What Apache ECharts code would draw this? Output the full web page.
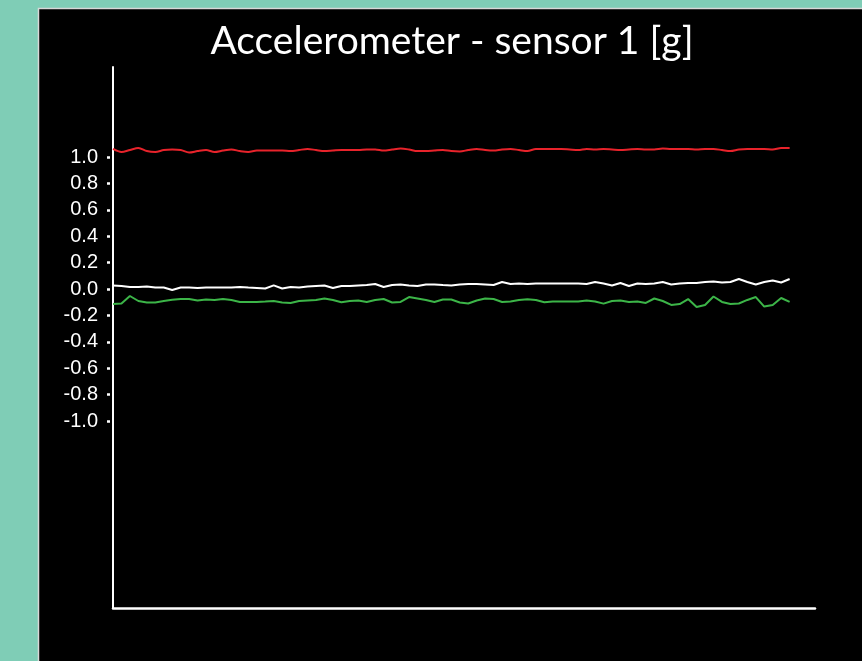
<!DOCTYPE html>
<html>
<head>
<meta charset="utf-8">
<script src="https://cdn.jsdelivr.net/npm/echarts@6/dist/echarts.min.js"></script>
<style>
html, body { margin: 0; padding: 0; background: #7fcdb6; }
#chart { width: 862px; height: 661px; }
</style>
</head>
<body>
<div id="chart"></div>
<script>
// samples (x axis has a few empty slots after the data, as in the picture)
var sampleCount = 84;
var yTickLabels = ['-1.0','-0.8','-0.6','-0.4','-0.2','0.0','0.2','0.4','0.6','0.8','1.0'];

// red trace
var seriesX = [1.061,1.038,1.053,1.068,1.045,1.038,1.053,1.057,1.053,1.034,1.045,1.053,1.038,1.049,1.057,1.045,1.038,1.049,1.049,1.049,
	1.049,1.045,1.053,1.061,1.053,1.045,1.049,1.053,1.053,1.053,1.057,1.057,1.049,1.057,1.064,1.057,1.045,1.045,1.049,1.053,
	1.045,1.042,1.053,1.061,1.053,1.049,1.057,1.061,1.053,1.045,1.061,1.061,1.061,1.061,1.057,1.053,1.061,1.057,1.061,1.057,
	1.053,1.057,1.061,1.057,1.057,1.064,1.061,1.061,1.061,1.057,1.061,1.061,1.053,1.045,1.057,1.061,1.061,1.061,1.057,1.068,1.068];
// white trace
var seriesY = [0.027,0.023,0.015,0.015,0.019,0.011,0.011,-0.008,0.011,0.011,0.008,0.011,0.011,0.011,0.011,0.015,0.011,0.008,0.004,0.027,
	0.004,0.015,0.011,0.019,0.023,0.027,0.008,0.023,0.023,0.027,0.030,0.038,0.015,0.030,0.034,0.027,0.023,0.034,0.034,0.030,
	0.027,0.034,0.038,0.038,0.034,0.030,0.053,0.038,0.042,0.038,0.042,0.042,0.042,0.042,0.042,0.042,0.038,0.053,0.042,0.027,
	0.045,0.023,0.042,0.038,0.042,0.053,0.034,0.042,0.045,0.045,0.053,0.057,0.049,0.053,0.076,0.053,0.034,0.053,0.064,0.049,0.076];
// green trace
var seriesZ = [-0.114,-0.110,-0.053,-0.091,-0.102,-0.102,-0.091,-0.081,-0.076,-0.076,-0.087,-0.080,-0.083,-0.076,-0.083,-0.098,-0.098,-0.098,-0.095,-0.091,
	-0.102,-0.106,-0.091,-0.087,-0.083,-0.072,-0.083,-0.101,-0.091,-0.087,-0.098,-0.083,-0.076,-0.102,-0.098,-0.061,-0.072,-0.083,-0.098,-0.080,
	-0.080,-0.102,-0.110,-0.087,-0.072,-0.076,-0.098,-0.095,-0.083,-0.078,-0.083,-0.101,-0.095,-0.095,-0.095,-0.095,-0.087,-0.095,-0.111,-0.091,
	-0.087,-0.098,-0.095,-0.106,-0.072,-0.091,-0.121,-0.114,-0.076,-0.136,-0.121,-0.057,-0.098,-0.114,-0.110,-0.083,-0.061,-0.133,-0.121,-0.068,-0.098];

var categories = [];
for (var i = 0; i < sampleCount; i++) categories.push(i);

var myChart = echarts.init(document.getElementById('chart'));
var option = {
	backgroundColor: '#7fcdb6',
	animation: false,
	graphic: [{
		type: 'rect',
		shape: { x: 38.5, y: 8.5, width: 840, height: 670 },
		style: { fill: '#000', stroke: '#d8d8d8', lineWidth: 1.5 },
		z: -10
	}],
	title: {
		text: 'Accelerometer - sensor 1 [g]',
		left: 447,
		top: 17,
		textAlign: 'center',
		textStyle: { color: '#fff', fontFamily: 'Lato', fontWeight: 'normal', fontSize: 39 }
	},
	grid: [
		{ left: 113, right: 47, top: 67, bottom: 53 },
		{ left: 113, right: 47, top: 157, bottom: 240 }
	],
	xAxis: [
		{
			type: 'category', gridIndex: 0, data: categories, boundaryGap: false,
			axisLine: { onZero: false, lineStyle: { color: '#fff', width: 2.5 } },
			axisTick: { show: false }, axisLabel: { show: false }
		},
		{
			type: 'category', gridIndex: 1, data: categories, boundaryGap: false, show: false
		}
	],
	yAxis: [
		{
			type: 'value', gridIndex: 0, min: -2.417, max: 1.682,
			axisLine: { show: true, lineStyle: { color: '#fff', width: 2 } },
			axisTick: { show: false }, axisLabel: { show: false }, splitLine: { show: false }
		},
		{
			type: 'value', gridIndex: 1, min: -1, max: 1, interval: 0.2, offset: 3,
			axisLine: { show: false },
			axisTick: { show: true, length: 3, lineStyle: { color: '#fff', width: 2.5 } },
			axisLabel: {
				color: '#fff', fontFamily: 'Liberation Sans', fontSize: 20, margin: 12,
				formatter: function (v) { return yTickLabels[Math.round((v + 1) * 5)]; }
			},
			splitLine: { show: false }
		}
	],
	series: [
		{ name: 'x', type: 'line', data: seriesX, showSymbol: false, smooth: 0.3, lineStyle: { color: '#e8232b', width: 2 } },
		{ name: 'y', type: 'line', data: seriesY, showSymbol: false, lineStyle: { color: '#ffffff', width: 2 } },
		{ name: 'z', type: 'line', data: seriesZ, showSymbol: false, lineStyle: { color: '#3cb548', width: 2 } }
	]
};
myChart.setOption(option);
</script>
</body>
</html>
